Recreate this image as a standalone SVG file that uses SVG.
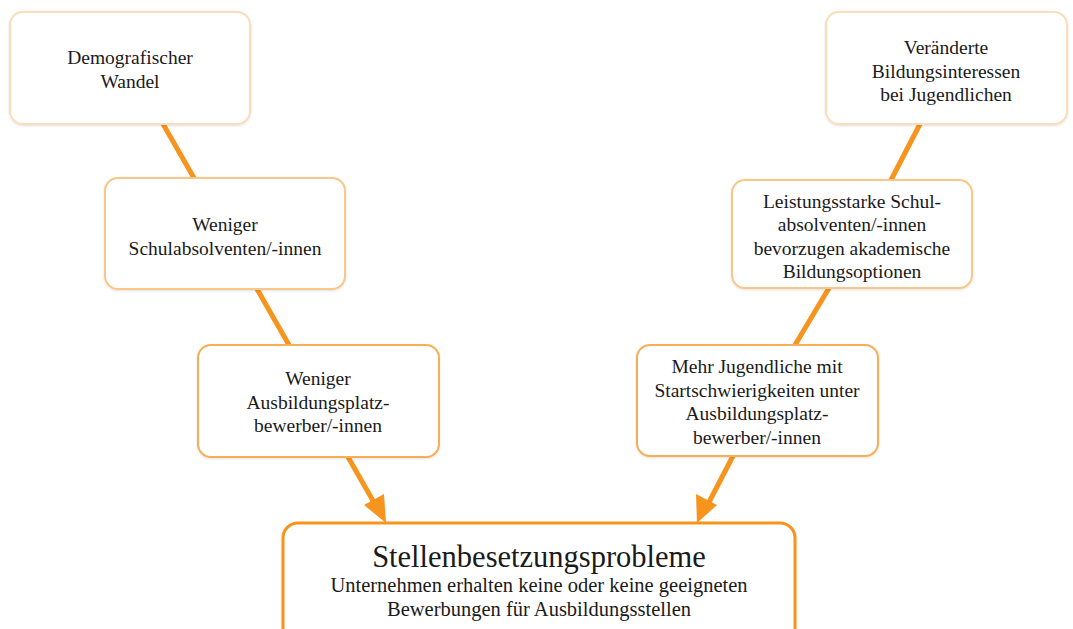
<svg xmlns="http://www.w3.org/2000/svg" width="1073" height="629" viewBox="0 0 1073 629">
<defs>
<style>
.box{fill:#fff;stroke-width:2}
.l1{stroke:#FCDDBB}
.l2{stroke:#FBC687}
.l3{stroke:#F8AE57}
.main{fill:#fff;stroke:#F7941D;stroke-width:3}
text{font-family:"Liberation Serif",serif;fill:#1a1a1a;text-anchor:middle;font-size:19.5px}
.title{font-size:30.5px}
.sub{font-size:20.5px}
.con{stroke:#F7941D;stroke-width:5;fill:none}
.ah{fill:#F7941D}
</style>
<filter id="sh" x="-10%" y="-10%" width="120%" height="130%">
<feDropShadow dx="0" dy="1" stdDeviation="1" flood-color="#000" flood-opacity="0.12"/>
</filter>
</defs>
<rect width="1073" height="629" fill="#fff"/>
<g id="connectors">
<line class="con" x1="163" y1="124" x2="194" y2="178"/>
<line class="con" x1="257" y1="289" x2="289" y2="345"/>
<line class="con" x1="348" y1="457" x2="376" y2="506"/>
<polygon class="ah" points="386,523 364,505 384,494"/>
<line class="con" x1="920" y1="124" x2="891" y2="180"/>
<line class="con" x1="829" y1="288" x2="795" y2="345"/>
<line class="con" x1="733" y1="456" x2="707" y2="506"/>
<polygon class="ah" points="697,523 696,494 717,505"/>
</g>
<g id="n1">
<rect class="box l1" x="10" y="12" width="240" height="112" rx="13" filter="url(#sh)"/>
<text x="130" y="64">Demografischer</text>
<text x="130" y="88">Wandel</text>
</g>
<g id="n2">
<rect class="box l2" x="105" y="178" width="240" height="111" rx="13" filter="url(#sh)"/>
<text x="225" y="231">Weniger</text>
<text x="225" y="255">Schulabsolventen/-innen</text>
</g>
<g id="n3">
<rect class="box l3" x="198" y="345" width="241" height="112" rx="13" filter="url(#sh)"/>
<text x="318" y="385">Weniger</text>
<text x="318" y="409">Ausbildungsplatz-</text>
<text x="318" y="432">bewerber/-innen</text>
</g>
<g id="n4">
<rect class="box l1" x="826" y="12" width="241" height="112" rx="13" filter="url(#sh)"/>
<text x="946" y="54">Veränderte</text>
<text x="946" y="78">Bildungsinteressen</text>
<text x="946" y="101">bei Jugendlichen</text>
</g>
<g id="n5">
<rect class="box l2" x="732" y="180" width="240" height="108" rx="13" filter="url(#sh)"/>
<text x="852" y="208">Leistungsstarke Schul-</text>
<text x="852" y="231">absolventen/-innen</text>
<text x="852" y="255">bevorzugen akademische</text>
<text x="852" y="278">Bildungsoptionen</text>
</g>
<g id="n6">
<rect class="box l3" x="637" y="345" width="241" height="111" rx="13" filter="url(#sh)"/>
<text x="757" y="373">Mehr Jugendliche mit</text>
<text x="757" y="397">Startschwierigkeiten unter</text>
<text x="757" y="420">Ausbildungsplatz-</text>
<text x="757" y="444">bewerber/-innen</text>
</g>
<g id="n7">
<rect class="main" x="283" y="523" width="512" height="120" rx="15" filter="url(#sh)"/>
<text class="title" x="539" y="567">Stellenbesetzungsprobleme</text>
<text class="sub" x="539" y="592">Unternehmen erhalten keine oder keine geeigneten</text>
<text class="sub" x="539" y="616">Bewerbungen für Ausbildungsstellen</text>
</g>
</svg>
